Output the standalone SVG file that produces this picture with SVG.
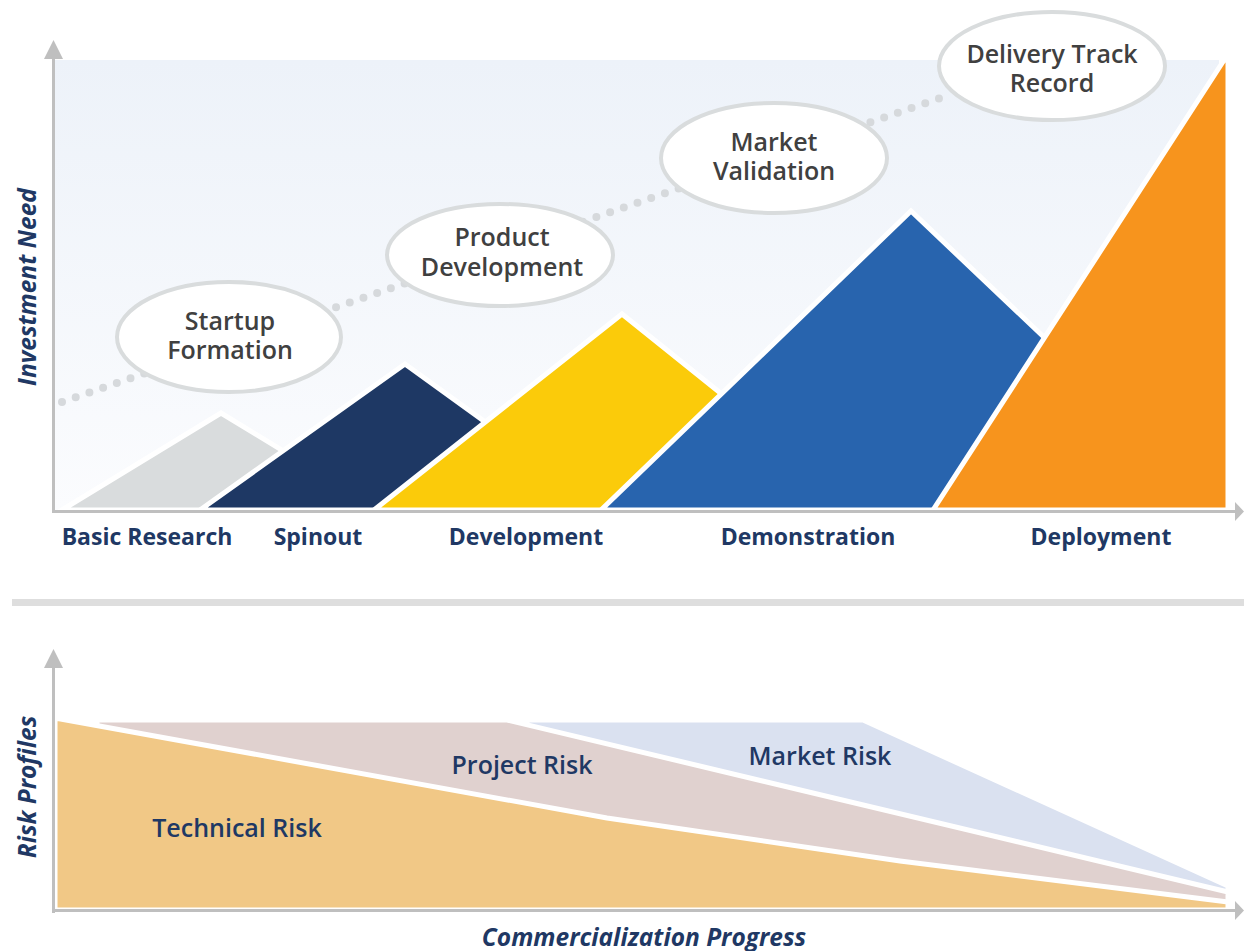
<svg xmlns="http://www.w3.org/2000/svg" width="1244" height="951" viewBox="0 0 1244 951">
  <defs>
    <linearGradient id="bgGrad" x1="0" y1="0" x2="0" y2="1">
      <stop offset="0" stop-color="#edf2f9"/>
      <stop offset="1" stop-color="#fbfcfe"/>
    </linearGradient>
  </defs>
  <style>
    .mount { stroke: #ffffff; stroke-width: 5; stroke-linejoin: miter; }
    .band { stroke: #ffffff; stroke-width: 5; stroke-linejoin: round; }
    .bubble { fill: #ffffff; stroke: #d9dcdd; stroke-width: 4; }
    .bubbleText { font-family: "Open Sans", "Liberation Sans", sans-serif; font-weight: 600; font-size: 25px; fill: #404040; text-anchor: middle; }
    .stage { font-family: "Open Sans", "Liberation Sans", sans-serif; font-weight: 700; font-size: 23px; fill: #203864; text-anchor: middle; }
    .axisTitle { font-family: "Open Sans", "Liberation Sans", sans-serif; font-weight: 700; font-style: italic; font-size: 24.5px; fill: #203864; text-anchor: middle; }
    .risk { font-family: "Open Sans", "Liberation Sans", sans-serif; font-weight: 600; font-size: 25px; fill: #203864; text-anchor: middle; }
    .axis { fill: #bfbfbf; }
  </style>

  <!-- Investment chart background -->
  <rect x="55" y="60" width="1164" height="450" fill="url(#bgGrad)"/>

  <!-- Dotted progression trail behind the milestone bubbles -->
  <g id="connectors">
    <line x1="62" y1="402" x2="946" y2="96" stroke="#d6d9dc" stroke-width="8" stroke-linecap="round" stroke-dasharray="0 14.5"/>
  </g>

  <!-- Stage mountains -->
  <g id="stage-basic-research">
    <polygon class="mount" fill="#d9dcdd" points="62,510 221,413 380,510"/>
  </g>
  <g id="stage-spinout">
    <polygon class="mount" fill="#1e3864" points="200,510 405,364 607,510"/>
  </g>
  <g id="stage-development">
    <polygon class="mount" fill="#fbcb0a" points="374,510 622,314 866,510"/>
  </g>
  <g id="stage-demonstration">
    <polygon class="mount" fill="#2864ae" points="601,510 911,211 1226,510"/>
  </g>
  <g id="stage-deployment">
    <polygon class="mount" fill="#f7941d" points="933,510 1228,54 1228,510"/>
  </g>

  <!-- Milestone bubbles -->
  <g id="milestone-startup-formation">
    <ellipse class="bubble" cx="229" cy="337" rx="112" ry="55"/>
    <text class="bubbleText" x="230" y="330">Startup<tspan x="230" dy="29">Formation</tspan></text>
  </g>
  <g id="milestone-product-development">
    <ellipse class="bubble" cx="500" cy="255" rx="113" ry="51"/>
    <text class="bubbleText" x="502" y="246">Product<tspan x="502" dy="30">Development</tspan></text>
  </g>
  <g id="milestone-market-validation">
    <ellipse class="bubble" cx="774" cy="158" rx="113" ry="55"/>
    <text class="bubbleText" x="774" y="151">Market<tspan x="774" dy="29">Validation</tspan></text>
  </g>
  <g id="milestone-delivery-track-record">
    <ellipse class="bubble" cx="1052" cy="66" rx="113" ry="54"/>
    <text class="bubbleText" x="1052" y="63">Delivery Track<tspan x="1052" dy="29">Record</tspan></text>
  </g>

  <!-- Investment chart axes -->
  <g id="investment-axes">
    <rect class="axis" x="52" y="55" width="3" height="458"/>
    <polygon class="axis" points="53.5,40 44,59 63,59"/>
    <rect class="axis" x="52" y="510" width="1184" height="3"/>
    <polygon class="axis" points="1244,511.5 1235,502 1235,521"/>
  </g>

  <!-- Stage labels -->
  <g id="stage-labels">
    <text class="stage" x="147" y="545">Basic Research</text>
    <text class="stage" x="318" y="545">Spinout</text>
    <text class="stage" x="526" y="545">Development</text>
    <text class="stage" x="808" y="545">Demonstration</text>
    <text class="stage" x="1101" y="545">Deployment</text>
  </g>
  <text class="axisTitle" transform="translate(36,287) rotate(-90)">Investment Need</text>

  <!-- Divider -->
  <rect x="12" y="599" width="1232" height="7" fill="#dedede"/>

  <!-- Risk bands -->
  <g id="band-market-risk">
    <polygon class="band" fill="#dae1f0" points="527,720 863,720 1228,886 1228,910 527,910"/>
  </g>
  <g id="band-project-risk">
    <polygon class="band" fill="#e0d1cf" points="97,720 507,720 1228,892 1228,910 97,910"/>
  </g>
  <g id="band-technical-risk">
    <polygon class="band" fill="#f1c886" points="55,718 607,818 900,861 1228,902 1228,910 55,910"/>
  </g>

  <!-- Risk labels -->
  <text class="risk" x="522" y="774">Project Risk</text>
  <text class="risk" x="820" y="765">Market Risk</text>
  <text class="risk" x="237" y="837">Technical Risk</text>

  <!-- Risk chart axes -->
  <g id="risk-axes">
    <rect class="axis" x="52" y="664" width="3" height="249"/>
    <polygon class="axis" points="53.5,649 44,668 63,668"/>
    <rect class="axis" x="52" y="909" width="1184" height="3"/>
    <polygon class="axis" points="1244,910.5 1235,901 1235,920"/>
  </g>
  <text class="axisTitle" transform="translate(36,787) rotate(-90)">Risk Profiles</text>
  <text class="axisTitle" x="644" y="946">Commercialization Progress</text>
</svg>
